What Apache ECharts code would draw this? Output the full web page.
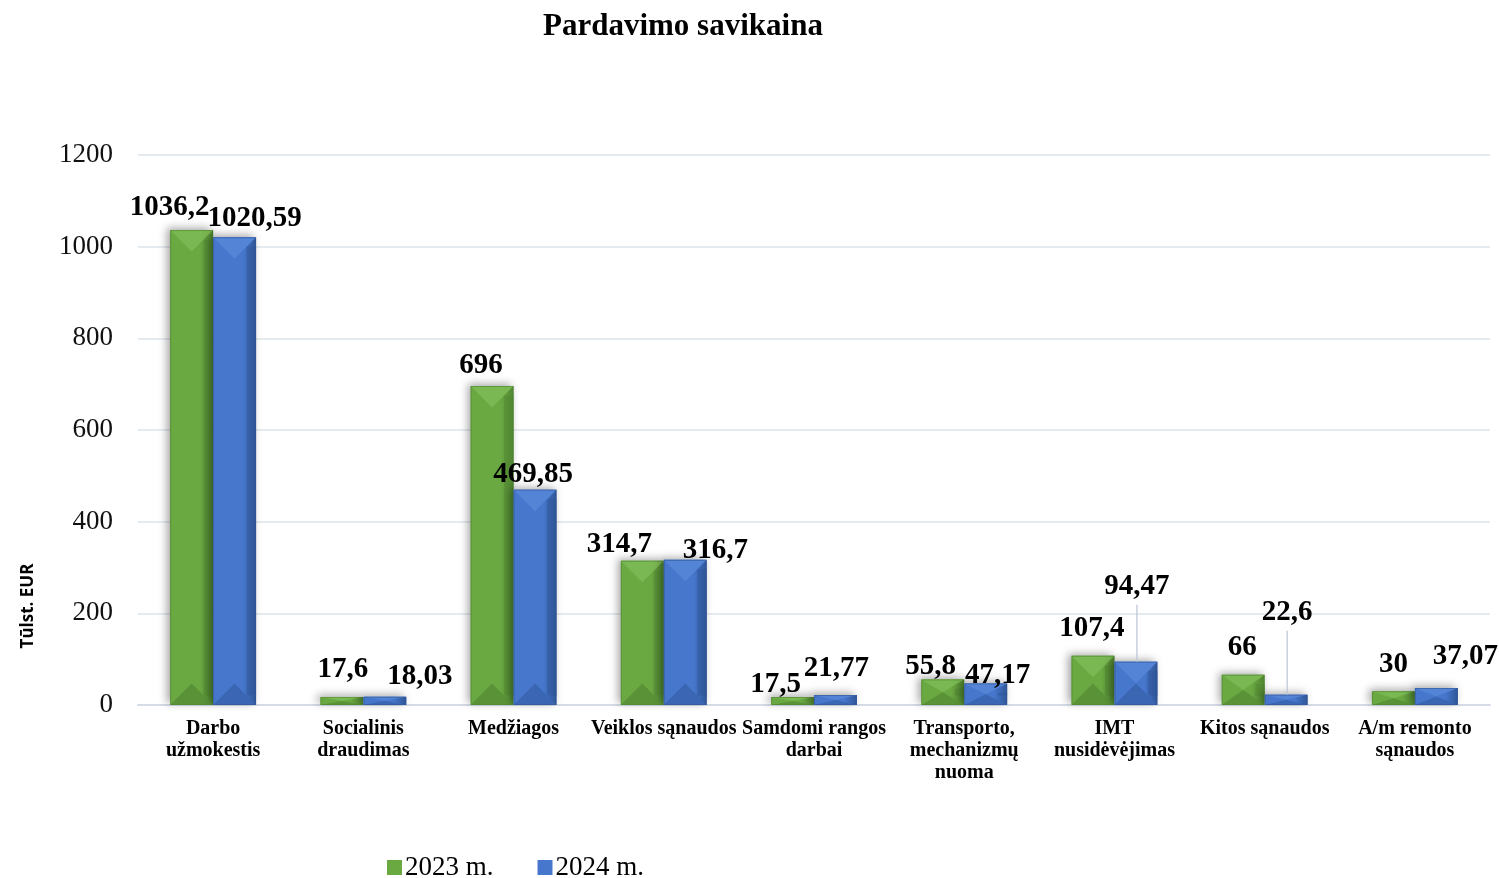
<!DOCTYPE html>
<html>
<head>
<meta charset="utf-8">
<title>Pardavimo savikaina</title>
<script src="https://cdn.jsdelivr.net/npm/echarts@6/dist/echarts.min.js"></script>
<style>
  html, body { margin: 0; padding: 0; background: #fff; }
  #chart { width: 1499px; height: 878px; }
</style>
</head>
<body>
<div id="chart"></div>
<script>
// kategorijos ir reikšmės (tūkst. EUR)
const categories = [
  "Darbo\nužmokestis",
  "Socialinis\ndraudimas",
  "Medžiagos",
  "Veiklos sąnaudos",
  "Samdomi rangos\ndarbai",
  "Transporto,\nmechanizmų\nnuoma",
  "IMT\nnusidėvėjimas",
  "Kitos sąnaudos",
  "A/m remonto\nsąnaudos",
];
const values2023 = [1036.2, 17.6, 696, 314.7, 17.5, 55.8, 107.4, 66, 30];
const values2024 = [1020.59, 18.03, 469.85, 316.7, 21.77, 47.17, 94.47, 22.6, 37.07];
const labels2023 = ["1036,2", "17,6", "696", "314,7", "17,5", "55,8", "107,4", "66", "30"];
const labels2024 = ["1020,59", "18,03", "469,85", "316,7", "21,77", "47,17", "94,47", "22,6", "37,07"];
const yTicks = { min: 0, max: 1200, interval: 200 };

// etikečių poslinkiai nuo stulpelio viršaus (px)
const shift2023 = [[-22, -23], [1, -27], [-11, -20], [-23, -16], [-17, -12], [-12, -13], [-1, -27], [-1, -27], [0, -27]];
const shift2024 = [[20, -19], [35, -20], [-2, -15], [30, -9], [1, -27], [12, -8], [1, -75], [1, -82], [29, -31]];

const palette = {
  green: { base: "#6aa842", light: "#79b852", dark: "#5a9337", edge: "#4f8531" },
  blue: { base: "#4677cc", light: "#5384d6", dark: "#3a66b3", edge: "#2f5596" },
};

const serif = "'Liberation Serif', 'Times New Roman', serif";

function makeRender(side, colors, labels, shifts) {
  return function (params, api) {
    const idx = api.value(0);
    const val = api.value(1);
    const zero = api.coord([idx, 0]);
    const top = api.coord([idx, val]);
    const band = api.size([1, 0])[0];
    const w = band * 0.286;
    const x0 = side === 0 ? zero[0] - w : zero[0];
    const x1 = x0 + w;
    const y0 = top[1];
    const y1 = zero[1];
    const h = y1 - y0;
    const cx = (x0 + x1) / 2;
    const d = Math.min(w / 2, h / 2);
    const edge = Math.min(w * 0.22, h / 2);

    const children = [
      {
        type: "rect",
        shape: { x: x0, y: y0, width: w, height: h },
        style: {
          fill: new echarts.graphic.LinearGradient(0, 0, 1, 0, [
            { offset: 0, color: colors.base },
            { offset: 0.7, color: colors.base },
            { offset: 1, color: colors.edge },
          ]),
          shadowBlur: 8,
          shadowOffsetX: -3,
          shadowOffsetY: -2,
          shadowColor: "rgba(0,0,0,0.35)",
        },
      },
      {
        type: "polygon",
        shape: { points: [[x1, y0 + edge], [x1, y1 - edge], [x1 - edge, y1 - edge], [x1 - edge, y0 + edge]] },
        style: { fill: colors.edge, opacity: 0.45 },
      },
      {
        type: "polygon",
        shape: { points: [[x0, y0], [x1, y0], [cx, y0 + d]] },
        style: { fill: colors.light },
      },
      {
        type: "polygon",
        shape: { points: [[x0, y1], [x1, y1], [cx, y1 - d]] },
        style: { fill: colors.dark },
      },
      {
        type: "rect",
        shape: { x: x0 + 0.5, y: y0 + 0.5, width: w - 1, height: h - 1 },
        style: { fill: null, stroke: colors.edge, lineWidth: 1, opacity: 0.6 },
      },
    ];

    const s = shifts[params.dataIndex];
    const lx = cx + s[0];
    const ly = y0 + s[1];
    if (s[1] < -50) {
      children.push({
        type: "line",
        shape: { x1: cx + s[0], y1: ly + 18, x2: cx + s[0], y2: y0 },
        style: { stroke: "#b8c3d3", lineWidth: 1.2 },
      });
    }
    children.push({
      type: "text",
      x: lx,
      y: ly,
      style: {
        text: labels[params.dataIndex],
        font: "bold 29px " + serif,
        fill: "#000",
        align: "center",
        verticalAlign: "middle",
      },
      z2: 10,
    });

    return { type: "group", children: children };
  };
}

const chart = echarts.init(document.getElementById("chart"));

const option = {
  animation: false,
  title: {
    text: "Pardavimo savikaina",
    left: 538,
    top: 6,
    textStyle: { fontFamily: serif, fontSize: 31, fontWeight: "bold", color: "#000" },
  },
  grid: { left: 138, right: 9, top: 155, bottom: 173, containLabel: false },
  legend: {
    left: 382,
    top: 849,
    icon: "rect",
    itemWidth: 15,
    itemHeight: 15,
    itemGap: 44,
    textStyle: { fontFamily: serif, fontSize: 27, color: "#000", padding: [0, 0, 0, -2] },
    data: ["2023 m.", "2024 m."],
  },
  graphic: [
    {
      type: "text",
      x: 28,
      y: 606,
      rotation: Math.PI / 2,
      style: {
        text: "Tūlst. EUR",
        font: "bold 17px 'Open Sans', 'Noto Sans', sans-serif",
        fill: "#000",
        align: "center",
        verticalAlign: "middle",
      },
    },
  ],
  xAxis: {
    type: "category",
    data: categories,
    axisTick: { show: false },
    axisLine: { lineStyle: { color: "#d5dce6", width: 2 } },
    axisLabel: {
      interval: 0,
      margin: 13,
      fontFamily: serif,
      fontSize: 20,
      fontWeight: "bold",
      lineHeight: 22,
      color: "#000",
    },
  },
  yAxis: {
    type: "value",
    min: yTicks.min,
    max: yTicks.max,
    interval: yTicks.interval,
    axisLine: { show: false },
    axisTick: { show: false },
    splitLine: { lineStyle: { color: "#dde3ea", width: 1.5 } },
    axisLabel: {
      margin: 25,
      fontFamily: serif,
      fontSize: 27,
      color: "#111",
      formatter: (v) => String(v),
    },
  },
  series: [
    {
      name: "2023 m.",
      type: "custom",
      itemStyle: { color: palette.green.base },
      renderItem: makeRender(0, palette.green, labels2023, shift2023),
      encode: { x: 0, y: 1 },
      data: values2023.map((v, i) => [i, v]),
    },
    {
      name: "2024 m.",
      type: "custom",
      itemStyle: { color: palette.blue.base },
      renderItem: makeRender(1, palette.blue, labels2024, shift2024),
      encode: { x: 0, y: 1 },
      data: values2024.map((v, i) => [i, v]),
    },
  ],
};

chart.setOption(option);
</script>
</body>
</html>
